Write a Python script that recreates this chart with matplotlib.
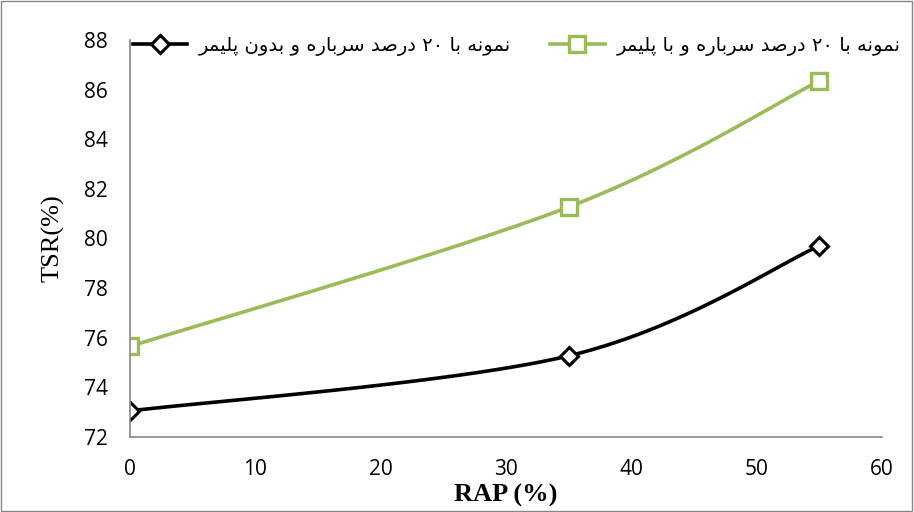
import numpy as np
import matplotlib.pyplot as plt
from matplotlib import font_manager

rap = [0, 35, 55]
tsr_no_polymer = [73.05, 75.27, 79.70]
tsr_polymer = [75.65, 81.27, 86.35]
label_no_polymer = "نمونه با ۲۰ درصد سرباره و بدون پلیمر"
label_polymer = "نمونه با ۲۰ درصد سرباره و با پلیمر"
xticks = [0, 10, 20, 30, 40, 50, 60]
yticks = [72, 74, 76, 78, 80, 82, 84, 86, 88]

# presentation forms: isolated, final, initial, medial
FORMS = {
    'ا': (0xFE8D, 0xFE8E), 'د': (0xFEA9, 0xFEAA), 'ر': (0xFEAD, 0xFEAE),
    'و': (0xFEED, 0xFEEE),
    'ب': (0xFE8F, 0xFE90, 0xFE91, 0xFE92), 'پ': (0xFB56, 0xFB57, 0xFB58, 0xFB59),
    'س': (0xFEB1, 0xFEB2, 0xFEB3, 0xFEB4), 'ص': (0xFEB9, 0xFEBA, 0xFEBB, 0xFEBC),
    'ل': (0xFEDD, 0xFEDE, 0xFEDF, 0xFEE0), 'م': (0xFEE1, 0xFEE2, 0xFEE3, 0xFEE4),
    'ن': (0xFEE5, 0xFEE6, 0xFEE7, 0xFEE8), 'ه': (0xFEE9, 0xFEEA, 0xFEEB, 0xFEEC),
    'ی': (0xFBFC, 0xFBFD, 0xFBFE, 0xFBFF),
}


def shape_word(w):
    if w[0] not in FORMS:
        return w
    out = []
    for i, c in enumerate(w):
        f = FORMS[c]
        prev_joins = i > 0 and len(FORMS[w[i - 1]]) == 4
        next_exists = i < len(w) - 1 and len(f) == 4
        if prev_joins and next_exists:
            out.append(chr(f[3]))
        elif prev_joins:
            out.append(chr(f[1]))
        elif next_exists:
            out.append(chr(f[2]))
        else:
            out.append(chr(f[0]))
    return ''.join(out)[::-1]


def rtl(s):
    return ' '.join(shape_word(w) for w in s.split(' ')[::-1])


def smooth(x, y, n=60):
    # excel-like bezier smoothing through the points
    p = np.column_stack([x, y]).astype(float)
    pts = []
    for i in range(len(p) - 1):
        p0 = p[i - 1] if i > 0 else p[i]
        p3 = p[i + 2] if i + 2 < len(p) else p[i + 1]
        c1 = p[i] + (p[i + 1] - p0) / 6
        c2 = p[i + 1] - (p3 - p[i]) / 6
        t = np.linspace(0, 1, n)[:, None]
        seg = ((1 - t) ** 3 * p[i] + 3 * (1 - t) ** 2 * t * c1
               + 3 * (1 - t) * t ** 2 * c2 + t ** 3 * p[i + 1])
        pts.append(seg)
    pts = np.vstack(pts)
    return pts[:, 0], pts[:, 1]


names = {f.name for f in font_manager.fontManager.ttflist}
tick_font = 'Liberation Sans Narrow' if 'Liberation Sans Narrow' in names else 'Open Sans'

fig = plt.figure(figsize=(9.14, 5.12), dpi=100)
ax = fig.add_axes([0.1422, 0.1465, 0.8228, 0.7754])

green = '#9BBB59'
sx, sy = smooth(rap, tsr_no_polymer)
ax.plot(sx, sy, color='black', lw=2.6)
ax.plot(rap, tsr_no_polymer, ls='none', marker='D', ms=9.5, mfc='white',
        mec='black', mew=2.2)
gx, gy = smooth(rap, tsr_polymer)
ax.plot(gx, gy, color=green, lw=2.6)
ax.plot(rap, tsr_polymer, ls='none', marker='s', ms=12, mfc='white',
        mec=green, mew=2.4)

h1 = plt.Line2D([], [], color='black', lw=2.6, marker='D', ms=9, mfc='white',
                mec='black', mew=2.2)
h2 = plt.Line2D([], [], color=green, lw=2.6, marker='s', ms=11, mfc='white',
                mec=green, mew=2.4)
fig.legend([h1, h2], [rtl(label_no_polymer), rtl(label_polymer)], ncol=2,
           loc='upper left', bbox_to_anchor=(133 / 914, 1 - 36 / 512),
           frameon=False, borderpad=0, borderaxespad=0,
           prop={'family': 'DejaVu Sans', 'size': 14},
           handlelength=2.8, handletextpad=0.6, columnspacing=2.0)

ax.set_xlim(0, 60)
ax.set_ylim(72, 88)
ax.set_xticks(xticks)
ax.set_yticks(yticks)
ax.tick_params(length=0, pad=16, labelsize=15)
for lab in ax.get_xticklabels() + ax.get_yticklabels():
    lab.set_family(tick_font)
for s in ['top', 'right']:
    ax.spines[s].set_visible(False)
for s in ['left', 'bottom']:
    ax.spines[s].set_color('#868686')
    ax.spines[s].set_linewidth(1.2)

ax.set_ylabel('TSR(%)', family='Liberation Serif', fontsize=19, labelpad=14)
ax.set_xlabel('RAP (%)', family='Liberation Serif', fontsize=19,
              fontweight='bold', labelpad=3)

fig.patches.append(plt.Rectangle((0.001, 0.001), 0.997, 0.997,
                                 transform=fig.transFigure, fill=False,
                                 ec='#868686', lw=1))

fig.savefig('out.png', dpi=100)
